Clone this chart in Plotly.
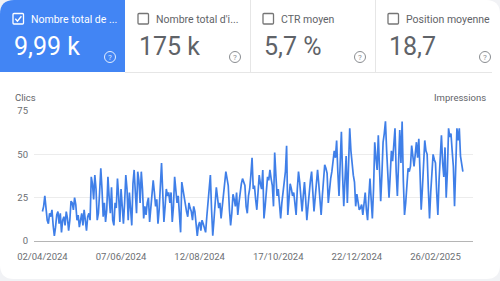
import plotly.graph_objects as go
import pandas as pd

# ---------------- data ----------------
start_date = "2024-04-02"
clicks = [
    17, 20, 26, 18, 12, 10, 16, 14, 18, 9, 3, 8, 15, 17, 10, 16, 5, 12, 14, 9,
    17, 13, 6, 12, 23, 22, 18, 25, 21, 12, 15, 8, 13, 16, 9, 18, 12, 6, 14, 16,
    12, 37, 33, 24, 38, 30, 12, 16, 28, 42, 30, 14, 22, 11, 18, 37, 25, 16, 31, 12,
    9, 22, 19, 36, 26, 11, 30, 18, 10, 22, 38, 30, 12, 28, 20, 9, 33, 41, 28, 16,
    40, 35, 22, 40, 30, 13, 20, 15, 22, 25, 11, 18, 24, 35, 28, 20, 24, 10, 18, 30,
    45, 28, 11, 20, 30, 26, 28, 22, 28, 11, 20, 37, 30, 22, 26, 14, 5, 34, 29, 24,
    20, 17, 14, 22, 19, 17, 12, 20, 17, 8, 3, 9, 11, 6, 12, 10, 8, 5, 14, 22,
    30, 38, 18, 3, 12, 24, 31, 25, 19, 22, 13, 20, 28, 34, 40, 36, 32, 18, 9, 16,
    27, 24, 20, 28, 15, 22, 29, 33, 36, 34, 32, 20, 16, 26, 30, 38, 48, 30, 32, 24,
    18, 28, 38, 33, 30, 41, 13, 20, 30, 37, 35, 41, 36, 32, 20, 51, 38, 26, 30, 20,
    13, 22, 28, 34, 40, 55, 15, 24, 33, 30, 26, 28, 22, 15, 30, 40, 34, 25, 17, 26,
    34, 24, 12, 20, 29, 35, 40, 28, 17, 25, 36, 41, 33, 24, 15, 26, 38, 44, 42, 39,
    22, 30, 36, 40, 45, 52, 48, 58, 40, 26, 45, 63, 38, 20, 35, 49, 22, 40, 65, 52,
    43, 38, 34, 20, 27, 22, 18, 19, 21, 15, 20, 28, 18, 12, 25, 36, 24, 13, 30, 57,
    48, 41, 61, 40, 23, 38, 57, 62, 69, 52, 41, 25, 38, 52, 46, 58, 65, 40, 26, 45,
    64, 45, 69, 35, 15, 22, 35, 42, 40, 43, 55, 48, 43, 50, 57, 48, 59, 40, 18, 30,
    45, 58, 52, 50, 30, 13, 28, 42, 50, 47, 45, 28, 15, 35, 52, 61, 45, 37, 54, 25,
    40, 65, 60, 62, 52, 43, 20, 42, 65, 58, 65, 49, 44, 40,
]
tick_dates = ["2024-04-02", "2024-06-07", "2024-08-12", "2024-10-17", "2024-12-22", "2025-02-26"]
tick_labels = ["02/04/2024", "07/06/2024", "12/08/2024", "17/10/2024", "22/12/2024", "26/02/2025"]
y_ticks = [0, 25, 50, 75]

card_labels = ["Nombre total de ...", "Nombre total d'i...", "CTR moyen", "Position moyenne"]
card_values = ["9,99 k", "175 k", "5,7 %", "18,7"]

dates = pd.date_range(start_date, periods=len(clicks), freq="D")

# ---------------- helpers (pixel -> paper) ----------------
W, H = 500, 281
def X(px): return px / W
def Y(py): return 1 - py / H

def rrect(x0, y0, x1, y1, tl=0, tr=0, br=0, bl=0):
    p = []
    p.append(f"M {X(x0+tl)},{Y(y0)}")
    p.append(f"L {X(x1-tr)},{Y(y0)}")
    if tr: p.append(f"Q {X(x1)},{Y(y0)} {X(x1)},{Y(y0+tr)}")
    p.append(f"L {X(x1)},{Y(y1-br)}")
    if br: p.append(f"Q {X(x1)},{Y(y1)} {X(x1-br)},{Y(y1)}")
    p.append(f"L {X(x0+bl)},{Y(y1)}")
    if bl: p.append(f"Q {X(x0)},{Y(y1)} {X(x0)},{Y(y1-bl)}")
    p.append(f"L {X(x0)},{Y(y0+tl)}")
    if tl: p.append(f"Q {X(x0)},{Y(y0)} {X(x0+tl)},{Y(y0)}")
    p.append("Z")
    return " ".join(p)

BLUE = "#4285f4"
GREY_TXT = "#5f6368"
FONT = "Roboto"

fig = go.Figure()
fig.add_trace(go.Scatter(
    x=dates, y=clicks, mode="lines",
    line=dict(color="#3f7fe8", width=1.7),
    hoverinfo="skip", showlegend=False,
))

shapes = []
annotations = []

# outer white card
shapes.append(dict(type="path", xref="paper", yref="paper", layer="below",
                   path=rrect(0, 0, 500, 279, 14, 14, 14, 14),
                   fillcolor="white", line=dict(width=0)))
# blue selected card
shapes.append(dict(type="path", xref="paper", yref="paper", layer="below",
                   path=rrect(0, 0, 125, 72, tl=14),
                   fillcolor=BLUE, line=dict(width=0)))
# separators
for sx in [250.5, 375.5]:
    shapes.append(dict(type="line", xref="paper", yref="paper", layer="below",
                       x0=X(sx), x1=X(sx), y0=Y(0), y1=Y(72),
                       line=dict(color="#e6e6e6", width=1)))
shapes.append(dict(type="line", xref="paper", yref="paper", layer="below",
                   x0=X(125), x1=X(492), y0=Y(72.5), y1=Y(72.5),
                   line=dict(color="#e6e6e6", width=1)))

card_x = [0, 125, 250, 375]
for i, (lab, val) in enumerate(zip(card_labels, card_values)):
    cx = card_x[i]
    sel = (i == 0)
    col = "white" if sel else GREY_TXT
    # checkbox
    bx0, by0 = cx + 13, 13.5
    shapes.append(dict(type="path", xref="paper", yref="paper",
                       path=rrect(bx0, by0, bx0 + 10.5, by0 + 10.5, 1, 1, 1, 1),
                       fillcolor=BLUE if sel else "white",
                       line=dict(color="white" if sel else "#757575", width=1.3)))
    if sel:
        shapes.append(dict(type="path", xref="paper", yref="paper",
                           path=f"M {X(bx0+2.3)},{Y(by0+5.3)} L {X(bx0+4.4)},{Y(by0+7.6)} L {X(bx0+8.4)},{Y(by0+2.8)}",
                           line=dict(color="white", width=1.4)))
    annotations.append(dict(x=X(cx + 29), y=Y(19), xref="paper", yref="paper",
                            text=lab, showarrow=False, xanchor="left", yanchor="middle",
                            font=dict(family=FONT, size=10.5, color=col)))
    annotations.append(dict(x=X(cx + 12), y=Y(46), xref="paper", yref="paper",
                            text=val, showarrow=False, xanchor="left", yanchor="middle",
                            font=dict(family=FONT, size=25, color=col)))
    # help icon
    qx, qy = cx + 110, 57
    icol = "rgba(255,255,255,0.85)" if sel else "#8a8d91"
    shapes.append(dict(type="circle", xref="paper", yref="paper",
                       x0=X(qx - 5.5), x1=X(qx + 5.5), y0=Y(qy - 5.5), y1=Y(qy + 5.5),
                       line=dict(color=icol, width=1)))
    annotations.append(dict(x=X(qx), y=Y(qy), xref="paper", yref="paper",
                            text="?", showarrow=False, xanchor="center", yanchor="middle",
                            font=dict(family=FONT, size=8, color=icol)))

# axis titles
annotations.append(dict(x=X(13), y=Y(97), xref="paper", yref="paper", text="Clics",
                        showarrow=False, xanchor="left", yanchor="middle",
                        font=dict(family=FONT, size=9.5, color=GREY_TXT)))
annotations.append(dict(x=X(488), y=Y(97), xref="paper", yref="paper", text="Impressions",
                        showarrow=False, xanchor="right", yanchor="middle",
                        font=dict(family=FONT, size=9.5, color=GREY_TXT)))

fig.update_layout(
    width=W, height=H,
    margin=dict(l=0, r=0, t=0, b=0, pad=0),
    paper_bgcolor="#f1f2f5",
    plot_bgcolor="rgba(0,0,0,0)",
    shapes=shapes,
    annotations=annotations,
    showlegend=False,
    xaxis=dict(
        domain=[X(34), X(473)],
        range=["2024-03-25 22:00", "2025-03-29 12:00"],
        tickmode="array", tickvals=tick_dates, ticktext=tick_labels,
        showgrid=False, zeroline=False, automargin=False,
        showline=True, linecolor="#b5b5b5", linewidth=1,
        ticks="", ticklabelstandoff=7,
        tickfont=dict(family=FONT, size=9.5, color="#6b6e72"),
        fixedrange=True,
    ),
    yaxis=dict(
        domain=[Y(241), Y(111)],
        range=[0, 75],
        tickmode="array", tickvals=y_ticks, ticktext=[str(v) for v in y_ticks],
        showgrid=True, gridcolor="#ececec", gridwidth=1,
        zeroline=False, showline=False, automargin=False,
        ticks="", ticklabelstandoff=5,
        tickfont=dict(family=FONT, size=9.5, color="#6b6e72"),
        fixedrange=True,
    ),
)

fig.write_html("out.html", config={"displayModeBar": False})
